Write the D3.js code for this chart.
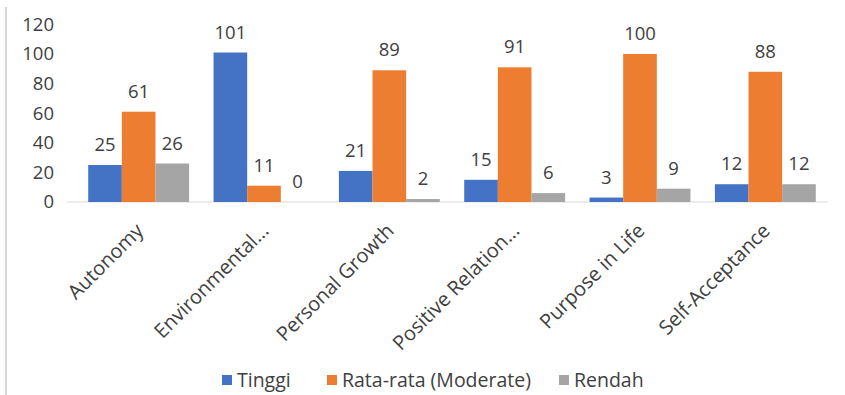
<!DOCTYPE html>
<html>
<head>
<meta charset="utf-8">
<script src="https://cdn.jsdelivr.net/npm/d3@7"></script>
<style>
  html, body { margin: 0; padding: 0; background: #fff; }
  svg text { font-family: "Open Sans", "Noto Sans", sans-serif; fill: #404040; }
</style>
</head>
<body>
<svg id="chart" width="845" height="395"></svg>
<script>
// Psychological well-being dimensions and counts per level
const categories = ["Autonomy", "Environmental...", "Personal Growth", "Positive Relation...", "Purpose in Life", "Self-Acceptance"];
const seriesNames = ["Tinggi", "Rata-rata (Moderate)", "Rendah"];
const tinggi = [25, 101, 21, 15, 3, 12];
const rataRata = [61, 11, 89, 91, 100, 88];
const rendah = [26, 0, 2, 6, 9, 12];
const yTicks = [0, 20, 40, 60, 80, 100, 120];
const colors = ["#4472C4", "#ED7D31", "#A5A5A5"];

const seriesValues = [tinggi, rataRata, rendah];

const svg = d3.select("#chart");

// frame edge on the left
svg.append("line")
  .attr("x1", 6).attr("x2", 6).attr("y1", 7).attr("y2", 395)
  .attr("stroke", "#d6d6d6").attr("stroke-width", 2);

const plot = { left: 76, right: 828, top: 24.4, bottom: 202 };

const x0 = d3.scaleBand()
  .domain(categories)
  .range([plot.left, plot.right])
  .paddingInner(0.195)
  .paddingOuter(0.0975);

const x1 = d3.scaleBand()
  .domain(seriesNames)
  .range([0, x0.bandwidth()]);

const y = d3.scaleLinear()
  .domain([0, 120])
  .range([plot.bottom, plot.top]);

// y-axis tick labels (no axis line, no gridlines)
const yAxis = d3.axisLeft(y).tickValues(yTicks).tickSize(0).tickPadding(0);
const yg = svg.append("g")
  .attr("transform", `translate(54,0)`)
  .call(yAxis);
yg.select(".domain").remove();
yg.selectAll("text")
  .attr("font-size", 18.5)
  .attr("fill", "#404040")
  .style("font-family", "'Open Sans', 'Noto Sans', sans-serif");

// baseline
svg.append("line")
  .attr("x1", 67).attr("x2", 828)
  .attr("y1", y(0)).attr("y2", y(0))
  .attr("stroke", "#d9d9d9").attr("stroke-width", 1);

// bars and value labels
const groups = svg.append("g").selectAll("g")
  .data(categories)
  .join("g")
  .attr("transform", d => `translate(${x0(d)},0)`);

groups.selectAll("rect")
  .data((d, i) => seriesNames.map((s, k) => ({ s, k, v: seriesValues[k][i] })))
  .join("rect")
  .attr("x", d => x1(d.s))
  .attr("width", x1.bandwidth())
  .attr("y", d => y(d.v))
  .attr("height", d => y(0) - y(d.v))
  .attr("fill", d => colors[d.k]);

groups.selectAll("text.val")
  .data((d, i) => seriesNames.map((s, k) => ({ s, k, v: seriesValues[k][i] })))
  .join("text")
  .attr("class", "val")
  .attr("x", d => x1(d.s) + x1.bandwidth() / 2)
  .attr("y", d => y(d.v) - 14)
  .attr("text-anchor", "middle")
  .attr("font-size", 18.5)
  .text(d => d.v);

// rotated category labels
svg.append("g").selectAll("text")
  .data(categories)
  .join("text")
  .attr("transform", d => `translate(${x0(d) + x0.bandwidth() / 2 + 1},${plot.bottom + 25}) rotate(-45)`)
  .attr("text-anchor", "end")
  .attr("dy", "0.35em")
  .attr("font-size", 20)
  .text(d => d);

// legend
const legendItems = [
  { name: seriesNames[0], x: 222 },
  { name: seriesNames[1], x: 327 },
  { name: seriesNames[2], x: 559 }
];
const lg = svg.append("g").selectAll("g")
  .data(legendItems)
  .join("g")
  .attr("transform", d => `translate(${d.x},375)`);
lg.append("rect")
  .attr("width", 10).attr("height", 10)
  .attr("fill", (d, i) => colors[i]);
lg.append("text")
  .attr("x", 15).attr("y", 5)
  .attr("dy", "0.35em")
  .attr("font-size", 19.5)
  .text(d => d.name);
</script>
</body>
</html>
